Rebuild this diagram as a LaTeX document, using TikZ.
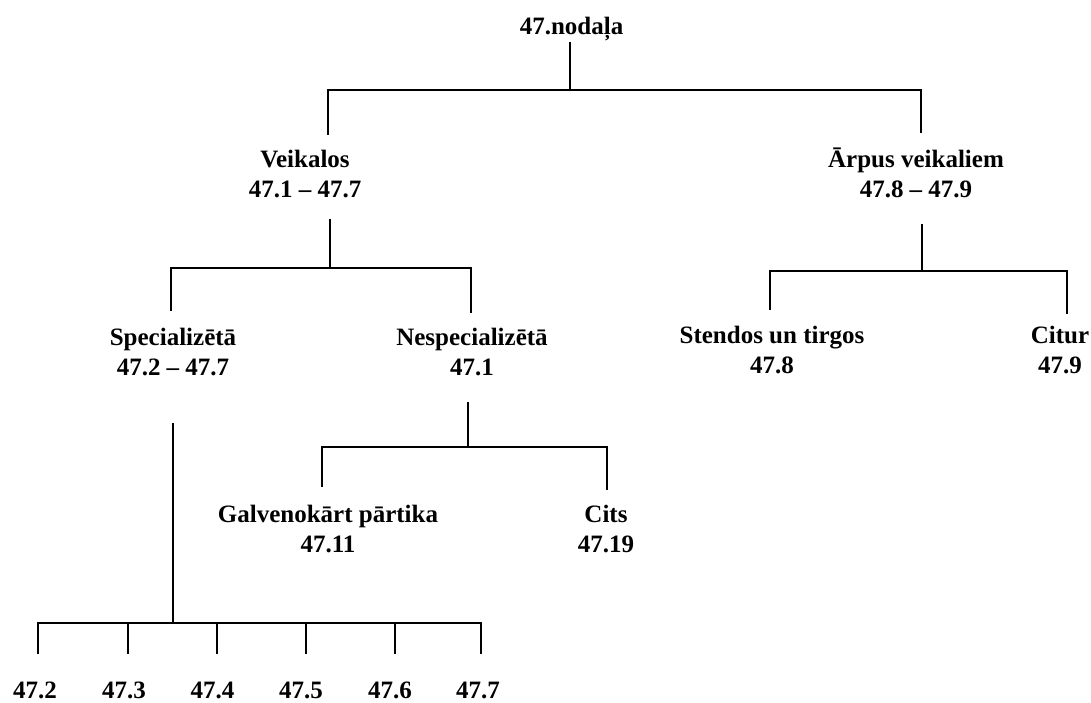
\documentclass[tikz,border=0pt]{standalone}
\usepackage{fontspec}
\setmainfont{Liberation Serif}
\begin{document}
\begin{tikzpicture}[x=1pt,y=-1pt,
  lbl/.style={inner sep=0pt,anchor=base,align=center,font=\fontsize{25}{29.5}\selectfont\bfseries},
  conn/.style={line width=1.7pt,line cap=rect}]
\useasboundingbox (0,0) rectangle (1091,702);
% labels (anchor = baseline of last line)
\node[lbl] (title) at (571.5,34) {47.nodaļa};
\node[lbl] (veik) at (305,197) {Veikalos\\47.1 – 47.7};
\node[lbl] (arp) at (916,197) {Ārpus veikaliem\\47.8 – 47.9};
\node[lbl] (spec) at (173,375) {Specializētā\\47.2 – 47.7};
\node[lbl] (nesp) at (472,375) {Nespecializētā\\47.1};
\node[lbl] (stend) at (772,373) {Stendos un tirgos\\47.8};
\node[lbl] (citur) at (1060,373) {Citur\\47.9};
\node[lbl] (galv) at (328,552) {Galvenokārt pārtika\\47.11};
\node[lbl] (cits) at (606,552) {Cits\\47.19};
\node[lbl] (l2) at (35,698) {47.2};
\node[lbl] (l3) at (124,698) {47.3};
\node[lbl] (l4) at (212.5,698) {47.4};
\node[lbl] (l5) at (301,698) {47.5};
\node[lbl] (l6) at (390,698) {47.6};
\node[lbl] (l7) at (478,698) {47.7};
% junction coordinates
\coordinate (t0) at (570,43);   \coordinate (t1) at (570,90);
\coordinate (b1l) at (328,90);  \coordinate (b1r) at (921,90);
\coordinate (veikT) at (328,134); \coordinate (arpT) at (921,132);
\coordinate (v0) at (330,220);  \coordinate (v1) at (330,268);
\coordinate (b2l) at (171,268); \coordinate (b2r) at (471,268);
\coordinate (specT) at (171,310); \coordinate (nespT) at (471,312);
\coordinate (a0) at (922,225);  \coordinate (a1) at (922,271);
\coordinate (b3l) at (770,271); \coordinate (b3r) at (1067,271);
\coordinate (stendT) at (770,309); \coordinate (citurT) at (1067,313);
\coordinate (s0) at (173,424);  \coordinate (s1) at (173,623);
\coordinate (b4l) at (38,623);  \coordinate (b4r) at (481,623);
\coordinate (n0) at (468,403);  \coordinate (n1) at (468,447);
\coordinate (b5l) at (322,447); \coordinate (b5r) at (607,447);
\coordinate (galvT) at (322,486); \coordinate (citsT) at (607,489);
% connectors
\draw[conn] (t0) -- (t1);
\draw[conn] (veikT) -- (b1l) -- (b1r) -- (arpT);
\draw[conn] (v0) -- (v1);
\draw[conn] (specT) -- (b2l) -- (b2r) -- (nespT);
\draw[conn] (a0) -- (a1);
\draw[conn] (stendT) -- (b3l) -- (b3r) -- (citurT);
\draw[conn] (n0) -- (n1);
\draw[conn] (galvT) -- (b5l) -- (b5r) -- (citsT);
\draw[conn] (s0) -- (s1);
\draw[conn] (b4l) -- (b4r);
\foreach \x/\n in {38/2,128/3,217/4,306/5,395/6,481/7}
  \draw[conn] (\x,623) -- (\x,653) coordinate (d\n);
\end{tikzpicture}
\end{document}
